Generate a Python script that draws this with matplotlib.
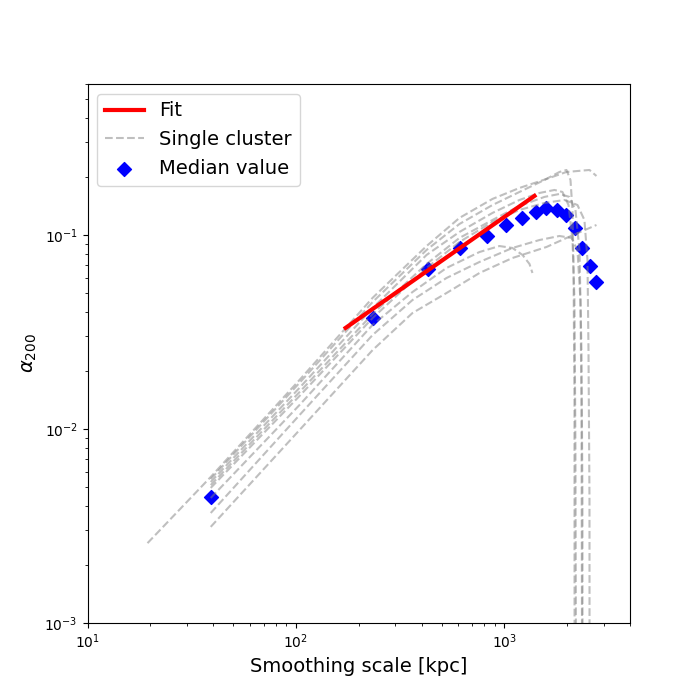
import matplotlib
matplotlib.use("Agg")
import matplotlib.pyplot as plt

# median alpha_200 per smoothing scale
scale_kpc = [39, 233, 428, 615, 820, 1012, 1207, 1410, 1590, 1794, 1983, 2191, 2367, 2585, 2761]
median_alpha = [0.00446, 0.0373, 0.0668, 0.0857, 0.0989, 0.1127, 0.1225, 0.1315, 0.138, 0.1345,
                0.1268, 0.1087, 0.0857, 0.0692, 0.0573]

# fitted power law, end points
fit_x = [173, 1393]
fit_y = [0.0332, 0.159]

c1_x = [19.4, 39, 104, 233, 423, 608, 876, 1180, 1590, 1983, 2557, 2762]
c1_y = [0.00258, 0.00566, 0.0179, 0.0474, 0.0877, 0.1224, 0.1534, 0.1747, 0.1944, 0.2112, 0.2163, 0.2014]

c2_x = [39, 104, 233, 423, 608, 876, 1180, 1555, 1835, 1983, 2073, 2119, 2142, 2166, 2170]
c2_y = [0.00552, 0.0173, 0.0451, 0.0837, 0.1139, 0.1427, 0.1666, 0.1921, 0.2112, 0.2163, 0.1921,
        0.1346, 0.0743, 0.0141, 1e-4]

c3_x = [39, 104, 233, 423, 608, 876, 1180, 1472, 1737, 1897, 2028, 2119, 2166, 2190, 2214]
c3_y = [0.00533, 0.0163, 0.0420, 0.0789, 0.1036, 0.1299, 0.1515, 0.1646, 0.1706, 0.1666, 0.1427,
        0.0942, 0.0462, 0.00779, 1e-4]

c4_x = [39, 104, 233, 423, 608, 876, 1180, 1555, 1835, 2050, 2190, 2289, 2340, 2366, 2370]
c4_y = [0.00514, 0.0155, 0.0391, 0.0709, 0.0965, 0.1195, 0.1411, 0.1571, 0.1627, 0.1571, 0.1346,
        0.0837, 0.0255, 0.00431, 1e-4]

c5_x = [39, 104, 233, 423, 608, 876, 1180, 1555, 1940, 2239, 2418, 2501, 2529, 2557, 2560]
c5_y = [0.00497, 0.0148, 0.0373, 0.0676, 0.0920, 0.1167, 0.1346, 0.1462, 0.1515, 0.1427, 0.1195,
        0.0743, 0.0255, 0.00431, 1e-4]

c6_x = [39, 104, 233, 362, 527, 759, 946, 1092, 1220, 1318, 1362]
c6_y = [0.00441, 0.0133, 0.0344, 0.0508, 0.0676, 0.0817, 0.0877, 0.0857, 0.0789, 0.0709, 0.0637]

c7_x = [39, 104, 233, 362, 527, 759, 1092, 1590, 1983, 2762]
c7_y = [0.00313, 0.00988, 0.0255, 0.0396, 0.0502, 0.0637, 0.0761, 0.0867, 0.0965, 0.1126]

c8_x = [39, 104, 233, 362, 527, 759, 1092, 1472, 1835, 2096, 2239, 2314, 2340, 2366]
c8_y = [0.00369, 0.0118, 0.0305, 0.0462, 0.0600, 0.0726, 0.0857, 0.0942, 0.0988, 0.0965, 0.0837,
        0.0462, 0.0141, 1e-4]

clusters = [(c1_x, c1_y), (c2_x, c2_y), (c3_x, c3_y), (c4_x, c4_y),
            (c5_x, c5_y), (c6_x, c6_y), (c7_x, c7_y), (c8_x, c8_y)]


def main():
    fig, ax = plt.subplots(figsize=(7, 7), dpi=100)

    ax.plot(fit_x, fit_y, color="red", lw=3, label="Fit", zorder=3)
    for i, (xs, ys) in enumerate(clusters):
        ax.plot(xs, ys, "--", color="gray", alpha=0.5,
                label="Single cluster" if i == 0 else None)
    ax.scatter(scale_kpc, median_alpha, marker="D", s=50, color="blue",
               label="Median value")

    ax.set_xscale("log")
    ax.set_yscale("log")
    ax.set_xlim(10, 4000)
    ax.set_ylim(1e-3, 0.6)
    ax.set_xlabel("Smoothing scale [kpc]", fontsize=14)
    ax.set_ylabel(r"$\alpha_{200}$", fontsize=14)
    ax.legend(loc="upper left", fontsize=14)

    fig.savefig("out.png", dpi=100)


main()
